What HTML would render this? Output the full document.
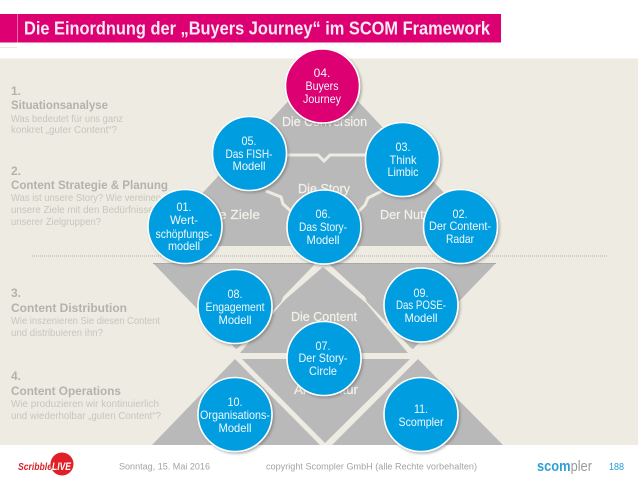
<!DOCTYPE html>
<html><head><meta charset="utf-8">
<style>
html,body{margin:0;padding:0;background:#fff;width:638px;height:479px;overflow:hidden}
svg{display:block}
text{font-family:"Liberation Sans",sans-serif}
.c text{fill:#f2f8fb;font-size:12px;text-anchor:middle}
.l text{fill:#f3f1ea;font-size:13px;stroke:#f3f1ea;stroke-width:.2}
.h{fill:#b3b2ad;font-size:12px;font-weight:bold}
.s{fill:#c6c5bf;font-size:10px}
.f{fill:#a3a3a3;font-size:9.5px}
</style></head><body>
<svg width="638" height="479" viewBox="0 0 638 479" xmlns="http://www.w3.org/2000/svg">
<defs><filter id="sh" x="-20%" y="-20%" width="150%" height="150%"><feDropShadow dx="1.5" dy="1.5" stdDeviation="1.2" flood-color="#555" flood-opacity=".45"/></filter></defs>
<rect width="638" height="479" fill="#fff"/>
<rect x="0" y="58.5" width="638" height="386.5" fill="#eeebe2"/>
<rect x="0" y="14" width="501" height="28.5" fill="#dc0073"/>
<rect x="17" y="14" width="1" height="28.5" fill="#ea6aa8"/>
<rect x="0" y="47" width="17" height="1" fill="#e8e8e8"/>
<text x="24" y="34.5" font-size="18" font-weight="bold" fill="#fbeaf3" textLength="466" lengthAdjust="spacingAndGlyphs">Die Einordnung der „Buyers Journey“ im SCOM Framework</text>

<g fill="#b9b9b9">
<polygon points="323,64 494,246 153,246"/>
<polygon points="153,263 316,263 283,297 281,302 238,348 236,349"/>
<polygon points="328,263 496,263 413,349 411,348 367,302 365,297"/>
<polygon points="323,267 360,298 366,303 408,353 240,353 282,303 287,298"/>
<polygon points="242,359 410,359 325,443"/>
<polygon points="235,359 320,445 152,445"/>
<polygon points="418,359 503,445 332,445"/>
</g>
<line x1="153" y1="263.5" x2="316" y2="263.5" stroke="#a9a9a9" stroke-width="1"/>
<line x1="328" y1="263.5" x2="496" y2="263.5" stroke="#a9a9a9" stroke-width="1"/>
<g fill="none" stroke="#eeebe2" stroke-width="3">
<polyline points="285,155 318,155 324,161 330,155 365,155"/>
<polyline points="266,191 281,197 283,204 294,214"/>
<polyline points="382,191 368,198 365,205 356,214"/>
</g>
<g class="l">
<text x="282" y="126" textLength="85" lengthAdjust="spacingAndGlyphs">Die Conversion</text>
<text x="298" y="193" textLength="52" lengthAdjust="spacingAndGlyphs">Die Story</text>
<text x="206" y="219" textLength="54" lengthAdjust="spacingAndGlyphs">Die Ziele</text>
<text x="380" y="219" textLength="64" lengthAdjust="spacingAndGlyphs">Der Nutzen</text>
<text x="291" y="321" textLength="66" lengthAdjust="spacingAndGlyphs">Die Content</text>
<text x="294" y="394" textLength="64" lengthAdjust="spacingAndGlyphs">Architektur</text>
</g>
<line x1="32" y1="256" x2="607" y2="256" stroke="#b4b4ac" stroke-width="1" stroke-dasharray="1 1"/>

<text class="h" x="11" y="95">1.</text>
<text class="h" x="11" y="109" textLength="97" lengthAdjust="spacingAndGlyphs">Situationsanalyse</text>
<text class="s" x="11" y="122" textLength="112" lengthAdjust="spacingAndGlyphs">Was bedeutet für uns ganz</text>
<text class="s" x="11" y="133" textLength="106" lengthAdjust="spacingAndGlyphs">konkret „guter Content“?</text>
<text class="h" x="11" y="175">2.</text>
<text class="h" x="11" y="189" textLength="157" lengthAdjust="spacingAndGlyphs">Content Strategie &amp; Planung</text>
<text class="s" x="11" y="201" textLength="150" lengthAdjust="spacingAndGlyphs">Was ist unsere Story? Wie vereinen</text>
<text class="s" x="11" y="213" textLength="148" lengthAdjust="spacingAndGlyphs">unsere Ziele mit den Bedürfnissen</text>
<text class="s" x="11" y="225" textLength="90" lengthAdjust="spacingAndGlyphs">unserer Zielgruppen?</text>
<text class="h" x="11" y="297">3.</text>
<text class="h" x="11" y="312" textLength="116" lengthAdjust="spacingAndGlyphs">Content Distribution</text>
<text class="s" x="11" y="324" textLength="149" lengthAdjust="spacingAndGlyphs">Wie inszenieren Sie diesen Content</text>
<text class="s" x="11" y="336" textLength="92" lengthAdjust="spacingAndGlyphs">und distribuieren ihn?</text>
<text class="h" x="11" y="380">4.</text>
<text class="h" x="11" y="395" textLength="110" lengthAdjust="spacingAndGlyphs">Content Operations</text>
<text class="s" x="11" y="407" textLength="148" lengthAdjust="spacingAndGlyphs">Wie produzieren wir kontinuierlich</text>
<text class="s" x="11" y="419" textLength="150" lengthAdjust="spacingAndGlyphs">und wiederholbar „guten Content“?</text>

<g filter="url(#sh)" stroke="#fff" stroke-width="1.6" fill="#069ee0">
<circle cx="322.5" cy="86" r="37" fill="#dc0073"/>
<circle cx="249.5" cy="153.5" r="37"/>
<circle cx="402.5" cy="159.5" r="37"/>
<circle cx="185" cy="226.5" r="37"/>
<circle cx="460.5" cy="226.5" r="37"/>
<circle cx="235" cy="306.5" r="37"/>
<circle cx="421" cy="305" r="37"/>
<circle cx="324" cy="227" r="37"/>
<circle cx="324" cy="358.5" r="37"/>
<circle cx="235" cy="414.5" r="37"/>
<circle cx="421" cy="414.5" r="37"/>
</g>
<g class="c">
<text x="322" y="77">04.</text><text x="322" y="90" textLength="33" lengthAdjust="spacingAndGlyphs">Buyers</text><text x="322" y="103" textLength="38" lengthAdjust="spacingAndGlyphs">Journey</text>
<text x="249" y="145" textLength="15" lengthAdjust="spacingAndGlyphs">05.</text><text x="249" y="158" textLength="47" lengthAdjust="spacingAndGlyphs">Das FISH-</text><text x="249" y="170" textLength="33" lengthAdjust="spacingAndGlyphs">Modell</text>
<text x="403" y="151" textLength="15" lengthAdjust="spacingAndGlyphs">03.</text><text x="403" y="164" textLength="27" lengthAdjust="spacingAndGlyphs">Think</text><text x="403" y="176" textLength="31" lengthAdjust="spacingAndGlyphs">Limbic</text>
<text x="184" y="211" textLength="15" lengthAdjust="spacingAndGlyphs">01.</text><text x="184" y="224" textLength="28" lengthAdjust="spacingAndGlyphs">Wert-</text><text x="184" y="238" textLength="57" lengthAdjust="spacingAndGlyphs">schöpfungs-</text><text x="184" y="250" textLength="32" lengthAdjust="spacingAndGlyphs">modell</text>
<text x="460" y="218" textLength="15" lengthAdjust="spacingAndGlyphs">02.</text><text x="460" y="230" textLength="62" lengthAdjust="spacingAndGlyphs">Der Content-</text><text x="460" y="243" textLength="28" lengthAdjust="spacingAndGlyphs">Radar</text>
<text x="323" y="218" textLength="15" lengthAdjust="spacingAndGlyphs">06.</text><text x="323" y="231" textLength="48" lengthAdjust="spacingAndGlyphs">Das Story-</text><text x="323" y="244" textLength="33" lengthAdjust="spacingAndGlyphs">Modell</text>
<text x="235" y="298" textLength="15" lengthAdjust="spacingAndGlyphs">08.</text><text x="235" y="311" textLength="59" lengthAdjust="spacingAndGlyphs">Engagement</text><text x="235" y="324" textLength="33" lengthAdjust="spacingAndGlyphs">Modell</text>
<text x="421" y="297" textLength="15" lengthAdjust="spacingAndGlyphs">09.</text><text x="421" y="309" textLength="50" lengthAdjust="spacingAndGlyphs">Das POSE-</text><text x="421" y="322" textLength="33" lengthAdjust="spacingAndGlyphs">Modell</text>
<text x="323" y="350" textLength="15" lengthAdjust="spacingAndGlyphs">07.</text><text x="323" y="362" textLength="49" lengthAdjust="spacingAndGlyphs">Der Story-</text><text x="323" y="375" textLength="28" lengthAdjust="spacingAndGlyphs">Circle</text>
<text x="235" y="406" textLength="15" lengthAdjust="spacingAndGlyphs">10.</text><text x="235" y="419" textLength="70" lengthAdjust="spacingAndGlyphs">Organisations-</text><text x="235" y="432" textLength="33" lengthAdjust="spacingAndGlyphs">Modell</text>
<text x="421" y="413" textLength="14" lengthAdjust="spacingAndGlyphs">11.</text><text x="421" y="426" textLength="45" lengthAdjust="spacingAndGlyphs">Scompler</text>
</g>

<circle cx="62" cy="464" r="11.5" fill="#e01f26"/>
<text x="18" y="470" font-size="10" font-weight="bold" font-style="italic" fill="#d9232a" textLength="34" lengthAdjust="spacingAndGlyphs">Scribble</text>
<text x="52" y="470" font-size="11" font-weight="bold" font-style="italic" fill="#fff" textLength="19" lengthAdjust="spacingAndGlyphs">LIVE</text>
<text class="f" x="119" y="469.5" textLength="91" lengthAdjust="spacingAndGlyphs">Sonntag, 15. Mai 2016</text>
<text class="f" x="266" y="469.5" textLength="211" lengthAdjust="spacingAndGlyphs">copyright Scompler GmbH (alle Rechte vorbehalten)</text>
<text x="537" y="471" font-size="14.5" textLength="55" lengthAdjust="spacingAndGlyphs"><tspan font-weight="bold" fill="#2d9fd6">scom</tspan><tspan fill="#9a9a9a">pler</tspan></text>
<text x="609" y="470" font-size="10" fill="#1f9bd7" textLength="15" lengthAdjust="spacingAndGlyphs">188</text>
</svg>
</body></html>
